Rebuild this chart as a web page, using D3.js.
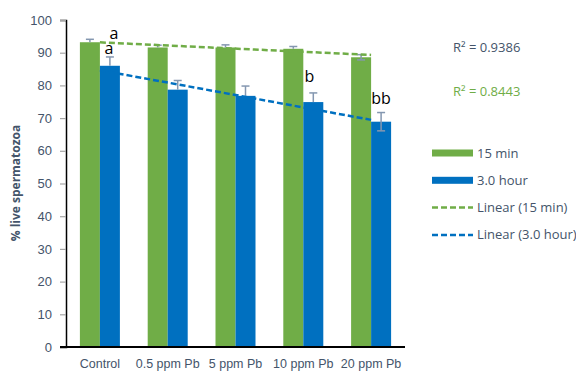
<!DOCTYPE html>
<html>
<head>
<meta charset="utf-8">
<script src="https://cdn.jsdelivr.net/npm/d3@7"></script>
<style>
  html, body { margin: 0; padding: 0; background: #fff; }
  svg { display: block; font-family: "Open Sans", "Liberation Sans", sans-serif; }
</style>
</head>
<body>
<svg id="chart" width="576" height="371"></svg>
<script>
// Treatment groups
const categories = ["Control", "0.5 ppm Pb", "5 ppm Pb", "10 ppm Pb", "20 ppm Pb"];

// Mean % live spermatozoa after 15 min and 3.0 h
const min15 = [93.2, 91.6, 91.6, 91.2, 88.6];
const hour3 = [86.0, 78.7, 76.8, 74.9, 68.9];

// Error bar extents (upper / lower)
const min15ErrUp = [0.9, 0.7, 0.8, 0.7, 0.8];
const min15ErrDown = [0, 0, 0, 0, 0.8];
const hour3ErrUp = [2.7, 2.8, 3.0, 2.8, 2.8];
const hour3ErrDown = [0, 0, 0, 0, 2.8];

// Significance letters: group, series, letter
const letterGroups = ["Control", "Control", "10 ppm Pb", "20 ppm Pb"];
const letterSeries = ["min15", "hour3", "hour3", "hour3"];
const letterText = ["a", "a", "b", "bb"];

const yTicks = [0, 10, 20, 30, 40, 50, 60, 70, 80, 90, 100];
const r2Labels = ["R\u00B2 = 0.9386", "R\u00B2 = 0.8443"];
const legendLabels = ["15 min", "3.0 hour", "Linear (15 min)", "Linear (3.0 hour)"];

const GREEN = "#70AD47", BLUE = "#0070C0", TEXT = "#44546A", ERR = "#8497B0";

const svg = d3.select("#chart");

const x = d3.scaleBand().domain(categories).range([66, 405]).padding(0);
const y = d3.scaleLinear().domain([0, 100]).range([347, 20]);
const barW = 20;

// Y axis
const yAxis = d3.axisLeft(y).tickValues(yTicks).tickSize(6).tickPadding(8);
const gy = svg.append("g").attr("transform", "translate(66,0)").call(yAxis);
gy.select(".domain").attr("stroke", "#000").attr("stroke-width", 1.5);
gy.selectAll(".tick line").attr("stroke", "#A6A6A6").attr("stroke-width", 1.2);
gy.selectAll(".tick text").attr("fill", TEXT).style("font-size", "13px");

// Axis title
svg.append("text")
  .attr("transform", "translate(20,183) rotate(-90)")
  .attr("text-anchor", "middle")
  .attr("fill", TEXT)
  .style("font-size", "12px")
  .style("font-weight", "bold")
  .text("% live spermatozoa");

const series = [
  { key: "min15", values: min15, up: min15ErrUp, down: min15ErrDown, color: GREEN, offset: -barW },
  { key: "hour3", values: hour3, up: hour3ErrUp, down: hour3ErrDown, color: BLUE, offset: 0 }
];

const centerOf = c => x(c) + x.bandwidth() / 2;

// Bars
series.forEach(s => {
  svg.append("g").selectAll("rect")
    .data(categories)
    .join("rect")
    .attr("x", (c) => centerOf(c) + s.offset)
    .attr("y", (c, i) => y(s.values[i]))
    .attr("width", barW)
    .attr("height", (c, i) => y(0) - y(s.values[i]))
    .attr("fill", s.color);
});

// X axis labels and baseline
const gx = svg.append("g").attr("transform", `translate(0,${y(0)})`)
  .call(d3.axisBottom(x).tickSize(0).tickPadding(12));
gx.select(".domain").remove();
gx.selectAll(".tick text").attr("fill", TEXT).style("font-size", "12.5px");
svg.append("line")
  .attr("x1", 60).attr("x2", 405)
  .attr("y1", y(0)).attr("y2", y(0))
  .attr("stroke", "#000").attr("stroke-width", 2);

// Error bars
series.forEach(s => {
  const g = svg.append("g").attr("stroke", ERR).attr("stroke-width", 1.5);
  categories.forEach((c, i) => {
    const cx = centerOf(c) + s.offset + barW / 2;
    const top = y(s.values[i] + s.up[i]);
    const bot = y(s.values[i] - s.down[i]);
    g.append("line").attr("x1", cx).attr("x2", cx).attr("y1", top).attr("y2", bot);
    g.append("line").attr("x1", cx - 4).attr("x2", cx + 4).attr("y1", top).attr("y2", top);
    if (s.down[i] > 0) {
      g.append("line").attr("x1", cx - 4).attr("x2", cx + 4).attr("y1", bot).attr("y2", bot);
    }
  });
});

// Least-squares linear trend over category index 1..n
function linearFit(vals) {
  const xs = vals.map((v, i) => i + 1);
  const mx = d3.mean(xs), my = d3.mean(vals);
  const sxy = d3.sum(xs, (xv, i) => (xv - mx) * (vals[i] - my));
  const sxx = d3.sum(xs, xv => (xv - mx) ** 2);
  const slope = sxy / sxx;
  return xv => my + slope * (xv - mx);
}

series.forEach(s => {
  const f = linearFit(s.values);
  const pts = [1, categories.length].map(k => [centerOf(categories[k - 1]), y(f(k))]);
  svg.append("path")
    .attr("d", d3.line()(pts))
    .attr("fill", "none")
    .attr("stroke", s.color)
    .attr("stroke-width", 2.5)
    .attr("stroke-dasharray", "6,3");
});

// Significance letters (horizontal nudge in px, baseline gap above error cap in px)
const letterNudge = [24, -1, -4, 0];
const letterGap = [0, 3, 11, 9];
letterText.forEach((t, k) => {
  const s = series.find(d => d.key === letterSeries[k]);
  const i = categories.indexOf(letterGroups[k]);
  const cx = centerOf(letterGroups[k]) + s.offset + barW / 2 + letterNudge[k];
  svg.append("text")
    .attr("x", cx)
    .attr("y", y(s.values[i] + s.up[i]) - letterGap[k])
    .attr("text-anchor", "middle")
    .attr("fill", "#000")
    .style("font-size", "16px")
    .text(t);
});

// R² labels
svg.append("text").attr("x", 453).attr("y", 52).attr("fill", TEXT)
  .style("font-size", "13px").text(r2Labels[0]);
svg.append("text").attr("x", 453).attr("y", 96).attr("fill", GREEN)
  .style("font-size", "13px").text(r2Labels[1]);

// Legend
const legend = svg.append("g").attr("transform", "translate(432,153)");
legendLabels.forEach((lab, i) => {
  const row = legend.append("g").attr("transform", `translate(0,${i * 27.3})`);
  if (i < 2) {
    row.append("rect").attr("x", 0).attr("y", -3.5).attr("width", 41).attr("height", 7)
      .attr("fill", i === 0 ? GREEN : BLUE);
  } else {
    row.append("line").attr("x1", 0).attr("x2", 41).attr("y1", 0).attr("y2", 0)
      .attr("stroke", i === 2 ? GREEN : BLUE).attr("stroke-width", 2.5)
      .attr("stroke-dasharray", "6,3");
  }
  row.append("text").attr("x", 45).attr("y", 0).attr("dy", "0.35em")
    .attr("fill", TEXT).style("font-size", "13px").text(lab);
});
</script>
</body>
</html>
